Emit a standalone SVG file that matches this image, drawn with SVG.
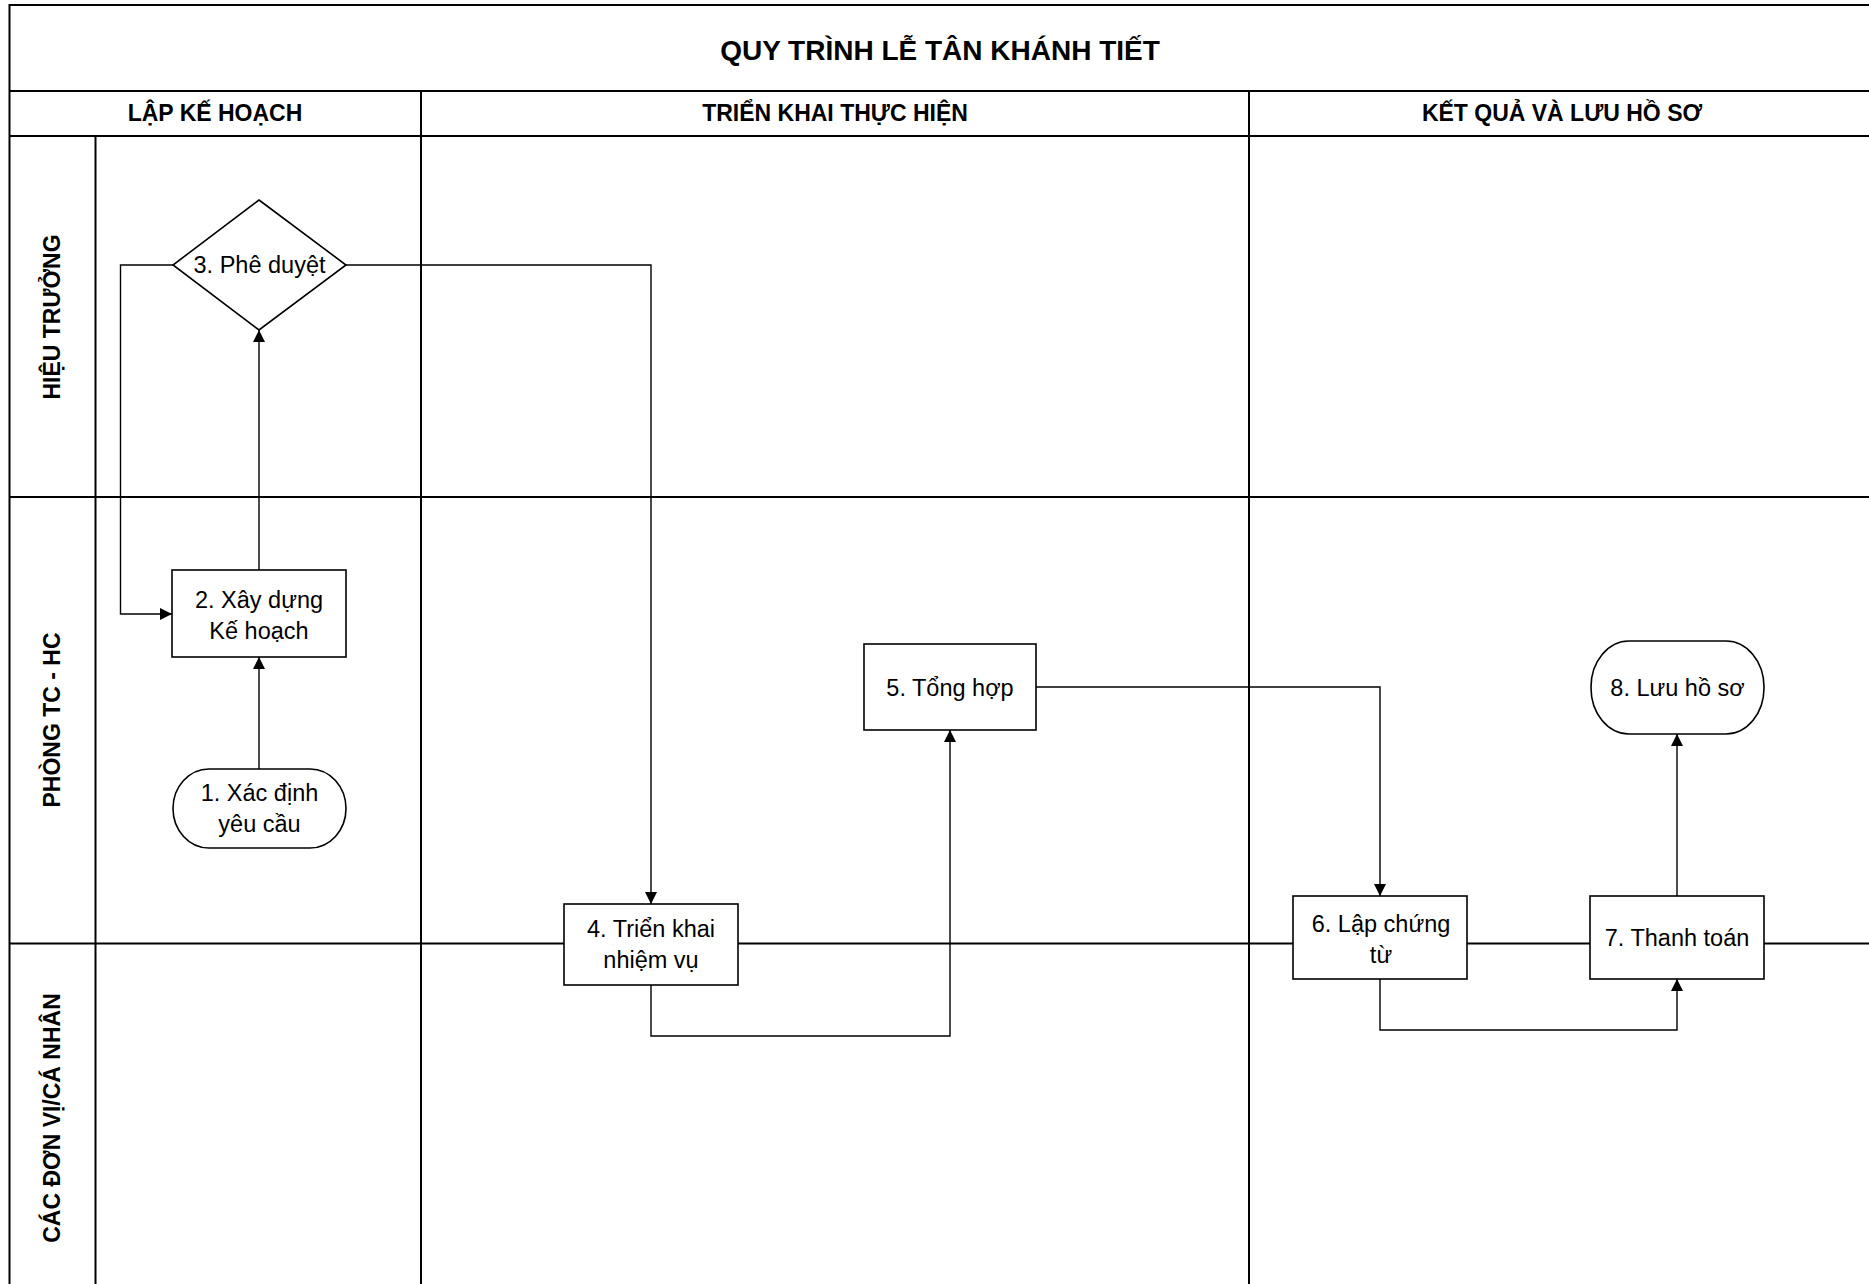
<svg xmlns="http://www.w3.org/2000/svg" width="1869" height="1284" viewBox="0 0 1869 1284">
<style>
.frame{fill:none;stroke:#000;stroke-width:2}
.grid{stroke:#000;stroke-width:2;fill:none}
.node{fill:#fff;stroke:#000;stroke-width:1.6}
.conn{fill:none;stroke:#000;stroke-width:1.4}
.t{font-family:"Liberation Sans",Arial,sans-serif;font-size:23.5px;fill:#000;text-anchor:middle}
.h{font-family:"Liberation Sans",Arial,sans-serif;font-size:23px;font-weight:bold;fill:#000;text-anchor:middle}
.title{font-family:"Liberation Sans",Arial,sans-serif;font-size:28px;font-weight:bold;fill:#000;text-anchor:middle}
</style>
<defs>
<marker id="arr" markerUnits="userSpaceOnUse" markerWidth="12" markerHeight="12" refX="12" refY="6" orient="auto">
<path d="M0,0 L12,6 L0,12 z" fill="#000"/>
</marker>
</defs>
<rect width="1869" height="1284" fill="#fff"/>
<g id="frame">
<rect class="frame" x="9.5" y="5" width="1862" height="1290"/>
<line class="grid" x1="9.5" y1="91" x2="1872" y2="91"/>
<line class="grid" x1="9.5" y1="136" x2="1872" y2="136"/>
<line class="grid" x1="95.5" y1="136" x2="95.5" y2="1295"/>
<line class="grid" x1="421" y1="91" x2="421" y2="1295"/>
<line class="grid" x1="1249" y1="91" x2="1249" y2="1295"/>
<line class="grid" x1="9.5" y1="497" x2="1872" y2="497"/>
<line class="grid" x1="9.5" y1="943.5" x2="1872" y2="943.5"/>
<text class="title" x="940" y="60">QUY TRÌNH LỄ TÂN KHÁNH TIẾT</text>
<text class="h" x="215" y="121">LẬP KẾ HOẠCH</text>
<text class="h" x="835" y="121">TRIỂN KHAI THỰC HIỆN</text>
<text class="h" x="1562" y="121">KẾT QUẢ VÀ LƯU HỒ SƠ</text>
<text class="h" x="52" y="325" transform="rotate(-90 52 317)">HIỆU TRƯỞNG</text>
<text class="h" x="52" y="728" transform="rotate(-90 52 720)">PHÒNG TC - HC</text>
<text class="h" x="52" y="1126" transform="rotate(-90 52 1118)">CÁC ĐƠN VỊ/CÁ NHÂN</text>
</g>
<g id="connectors">
<path class="conn" d="M259,769 L259,657" marker-end="url(#arr)"/>
<path class="conn" d="M259,570 L259,330" marker-end="url(#arr)"/>
<path class="conn" d="M173,265 L120.5,265 L120.5,614 L172,614" marker-end="url(#arr)"/>
<path class="conn" d="M346,265 L651,265 L651,904" marker-end="url(#arr)"/>
<path class="conn" d="M651,985 L651,1036 L950,1036 L950,730" marker-end="url(#arr)"/>
<path class="conn" d="M1036,687 L1380,687 L1380,896" marker-end="url(#arr)"/>
<path class="conn" d="M1380,979 L1380,1030 L1677,1030 L1677,979" marker-end="url(#arr)"/>
<path class="conn" d="M1677,896 L1677,734" marker-end="url(#arr)"/>
</g>
<g id="n1">
<rect class="node" x="173" y="769" width="173" height="79" rx="36" ry="39.5"/>
<text class="t" x="259.5" y="801">1. Xác định</text>
<text class="t" x="259.5" y="832">yêu cầu</text>
</g>
<g id="n2">
<rect class="node" x="172" y="570" width="174" height="87"/>
<text class="t" x="259" y="608">2. Xây dựng</text>
<text class="t" x="259" y="639">Kế hoạch</text>
</g>
<g id="n3">
<polygon class="node" points="259,200 346,265 259,330 173,265"/>
<text class="t" x="259.5" y="273">3. Phê duyệt</text>
</g>
<g id="n4">
<rect class="node" x="564" y="904" width="174" height="81"/>
<text class="t" x="651" y="937">4. Triển khai</text>
<text class="t" x="651" y="968">nhiệm vụ</text>
</g>
<g id="n5">
<rect class="node" x="864" y="644" width="172" height="86"/>
<text class="t" x="950" y="696">5. Tổng hợp</text>
</g>
<g id="n6">
<rect class="node" x="1293" y="896" width="174" height="83"/>
<text class="t" x="1381" y="932">6. Lập chứng</text>
<text class="t" x="1381" y="963">từ</text>
</g>
<g id="n7">
<rect class="node" x="1590" y="896" width="174" height="83"/>
<text class="t" x="1677" y="946">7. Thanh toán</text>
</g>
<g id="n8">
<rect class="node" x="1591" y="641" width="173" height="93" rx="38" ry="46"/>
<text class="t" x="1677.5" y="696">8. Lưu hồ sơ</text>
</g>
</svg>
